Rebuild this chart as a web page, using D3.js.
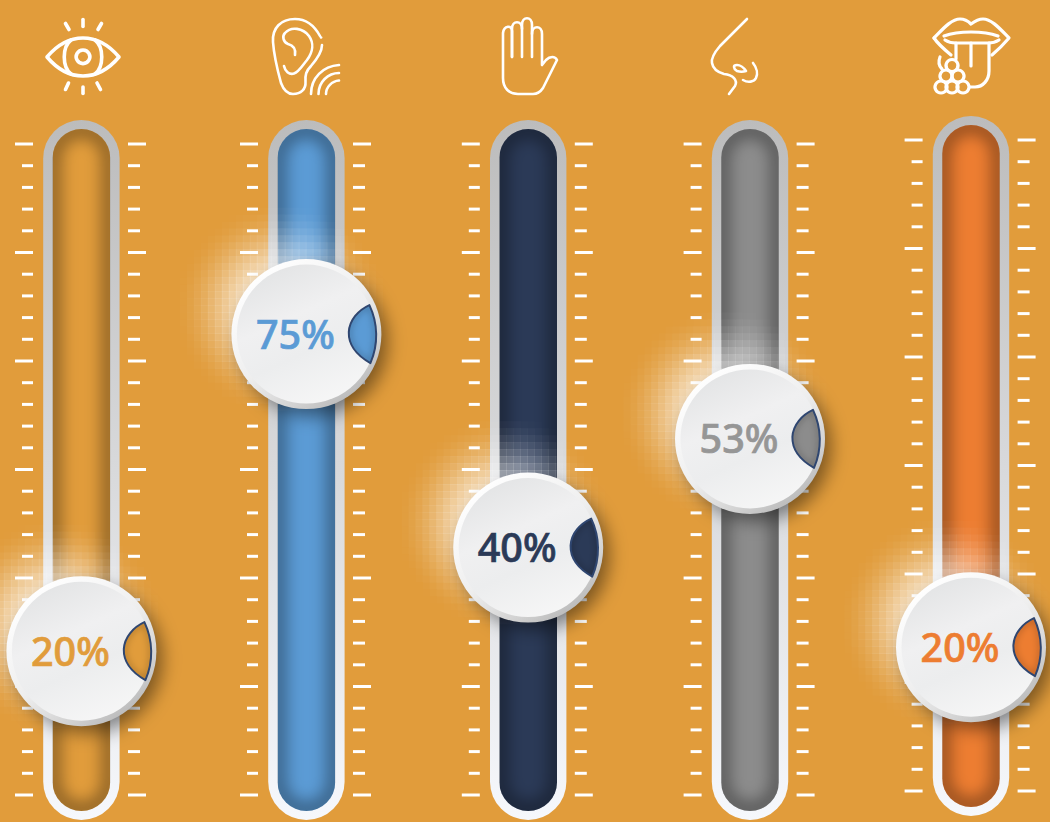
<!DOCTYPE html>
<html><head><meta charset="utf-8">
<script src="https://cdn.jsdelivr.net/npm/d3@7"></script>
<style>html,body{margin:0;padding:0;background:#e19c3b;overflow:hidden}svg{display:block}</style>
</head><body><svg id="c" width="1050" height="822"></svg>
<script>
const senses=["sight","hearing","touch","smell","taste"];
const percentLabels=[20,75,40,53,20];
const knobLevels=[22.1,70.8,38,54.7,22.1];
const fillColors=["#e19c3b","#5b9bd5","#2b3a57","#8c8c8c","#ed7d31"];
const textColors=["#e19c3b","#5b9bd5","#2b3a57","#969696","#ed7d31"];
const trackCenters=[81.4,306.4,528.2,750,971];
const trackShifts=[0,0,0,0,-4];
const majorTicks=d3.range(0,101,100/6);
const minorTicks=d3.range(0,30).map(i=>i*100/30).filter(v=>!majorTicks.some(m=>Math.abs(m-v)<.01));
const iconPaths={
 sight:["M47,57 C58,44 70,38 83,38 C96,38 108,44 119,57 C108,70 96,76 83,76 C70,76 58,70 47,57Z","M71,40 C62,47 62,67 71,74","M95,40 C104,47 104,67 95,74","M83,50 a6.8,6.8 0 1 0 .01,0Z","M83,19.5V26.5","M65.5,23.5L69,29.5","M101.5,23.5L98,29.5","M83,87V93.5","M68.5,83L65.5,89.5","M97,83L100.5,89.5"],
 hearing:["M320,36 C314,25 305,19 295,19 C281,19 272,28 273,42 C274,56 278,72 281,83 C284,91 288,94 293,94 C301,94 306,89 305.5,82 C305,75 306,71 311,66 C317,59 322,52 322,45","M295,55 C296,48 292,45 288,44 C283,42 282,36 285,33 C291,26 303,28 309,36 C314,43 313,52 307,60 C302,66 299,72 294,73.5 C289,75 285,71 284,66","M321,37.5h.1","M311,94 C311,78 323,66 339,65","M318.5,94 C318.5,82 328,73 339,73","M326,94 C326,87 332,81 339,80.5"],
 touch:["M512,57 V31 C512,25 504,25 503,33 L503,78 C503,88 509,94 518,94 L533,94 C538,94 541,91 543,88 L557,60 C555,56 550,56 546,60 L542,65 V34 C542,25 532,25 532,34 V57","M522,57 V25 C522,16 532,16 532,25 V34","M512,57 V29 C512,20 522,20 522,29"],
 smell:["M747,19 L720,46 C714,53 711,58 712,63 C713,69 717,72 724,74 C733,75 738,80 735,86 L729,94","M737,71 C733,68 733,65 737,65 C740,65 744,68 746,71 C743,72 740,72 737,71Z","M753,63 C757,68 758,74 756,78 C754,82 748,83 743,80"],
 taste:["M934,38 C942,30 951,19 960,19 C965,19 968,21 971,24 C975,21 978,19 983,19 C992,19 1001,30 1009,38 C1003,45 998,50 992,55","M934,38 C938,44 945,50 951,55","M944,36 C952,33 962,32 971,32 C980,32 990,33 998,36","M945,40 C948,42 952,43 956,43 H988 C992,43 996,42 999,40","M956,43 V59 M989,43 V71 C989,80 983,87 975,87 L970,87","M971,43 V66","M952,59.5 a6,6 0 1 0 .01,0Z","M946,70 a6,6 0 1 0 .01,0Z","M958,70 a6,6 0 1 0 .01,0Z","M941,81 a6,6 0 1 0 .01,0Z","M952,81 a6,6 0 1 0 .01,0Z","M963,81 a6,6 0 1 0 .01,0Z","M940,57 C938,62 939,66 942,69"]
};
const iconWidths={sight:3.6,hearing:2.6,touch:2.6,smell:2.6,taste:3.2};

const svg=d3.select("#c");
svg.append("rect").attr("width",1050).attr("height",822).attr("fill","#e19c3b");
const defs=svg.append("defs");
const grad=(id,x1,y1,x2,y2,stops)=>{const g=defs.append("linearGradient").attr("id",id).attr("x1",x1).attr("y1",y1).attr("x2",x2).attr("y2",y2);
 stops.forEach(s=>g.append("stop").attr("offset",s[0]).attr("stop-color",s[1]));};
grad("trackGrad",0,0,0,1,[[0,"#bcbcbc"],[.5,"#d8d9db"],[1,"#f6f8fc"]]);
grad("rimGrad",.15,.1,.8,.95,[[0,"#ffffff"],[.5,"#eeeeee"],[.8,"#d2d2d2"],[1,"#b8b8b8"]]);
grad("faceGrad",.3,0,.75,1,[[0,"#e3e4e5"],[.35,"#f0f0f1"],[.6,"#ecedee"],[1,"#f7f7f7"]]);
const blur=(id,sd)=>defs.append("filter").attr("id",id).attr("filterUnits","userSpaceOnUse").attr("x",-300).attr("y",-100).attr("width",1700).attr("height",1100)
 .append("feGaussianBlur").attr("stdDeviation",sd);
blur("b3",3.5);blur("b9",9);

const y=d3.scaleLinear().domain([0,100]).range([795,144]);
const lensPath="M63,-29 A70,70 0 0 1 64,29 C50,21 42,10 42.4,-2 C43,-14 52,-24 63,-29Z";
const R=75, cell=7;
const smooth=(a,b,x)=>{const t=Math.min(1,Math.max(0,(x-a)/(b-a)));return t*t*(3-2*t);};

senses.forEach((name,i)=>{
 const cx=trackCenters[i], dy=trackShifts[i], col=fillColors[i];
 const ic=svg.append("g").attr("fill","none").attr("stroke","#fff").attr("stroke-linecap","round").attr("stroke-linejoin","round").attr("stroke-width",iconWidths[name]);
 ic.selectAll("path").data(iconPaths[name]).join("path").attr("d",d=>d);

 const g=svg.append("g").attr("transform",`translate(${cx},${dy})`);
 const top=y(100)-24, bot=y(0)+25;
 g.append("rect").attr("x",-38.2).attr("y",top).attr("width",76.4).attr("height",bot-top).attr("rx",38.2).attr("fill","url(#trackGrad)");
 const it=top+9, ih=bot-top-18;
 const clipId="clip"+i;
 defs.append("clipPath").attr("id",clipId).append("rect").attr("x",-28.8).attr("y",it).attr("width",57.6).attr("height",ih).attr("rx",28.8);
 const inner=g.append("g").attr("clip-path",`url(#${clipId})`);
 inner.append("rect").attr("x",-28.8).attr("y",it).attr("width",57.6).attr("height",ih).attr("fill",col);
 inner.append("rect").attr("x",-28.8).attr("y",it).attr("width",57.6).attr("height",ih).attr("rx",28.8)
  .attr("fill","none").attr("stroke","#000").attr("stroke-opacity",.62).attr("stroke-width",10).attr("filter","url(#b9)");

 // mosaic glow behind the knob
 const ky=y(knobLevels[i]);
 const gx=-25, gy=ky-25;
 const cells=[];
 d3.range(-18,19).forEach(a=>d3.range(-18,19).forEach(b=>{
  const px=gx+a*cell, py=gy+b*cell, d=Math.hypot(a*cell,b*cell);
  const o=.82*Math.pow(1-smooth(15,112,d),1.2);
  if(o>.004)cells.push({px,py,o});
 }));
 g.append("g").selectAll("rect").data(cells).join("rect")
  .attr("x",d=>d.px-cell/2).attr("y",d=>d.py-cell/2).attr("width",cell+.3).attr("height",cell+.3)
  .attr("fill","#fff").attr("fill-opacity",d=>d.o);

 // tick scales through d3 axes
 const axis=(gen,x,vals,size)=>{const a=g.append("g").attr("transform",`translate(${x},0)`)
   .call(gen(y).tickValues(vals).tickSize(size).tickFormat("").offset(0));
   a.select(".domain").remove();
   a.selectAll("line").attr("stroke","#fff").attr("stroke-width",3);};
 axis(d3.axisLeft,-48.4,majorTicks,18);
 axis(d3.axisLeft,-48.4,minorTicks,11);
 axis(d3.axisRight,46.6,majorTicks,18);
 axis(d3.axisRight,46.6,minorTicks,12);

 // knob
 const k=g.append("g").attr("transform",`translate(0,${ky})`);
 k.append("circle").attr("cx",7).attr("cy",8).attr("r",R-1).attr("fill","#000").attr("fill-opacity",.45).attr("filter","url(#b9)");
 k.append("circle").attr("r",R).attr("fill","url(#rimGrad)");
 k.append("circle").attr("r",R-5.5).attr("fill","url(#faceGrad)");
 const lensClip="lens"+i;
 defs.append("clipPath").attr("id",lensClip).append("path").attr("d",lensPath);
 const lens=k.append("g");
 lens.append("path").attr("d",lensPath).attr("fill",col);
 lens.append("g").attr("clip-path",`url(#${lensClip})`).append("path").attr("d",lensPath)
  .attr("fill","none").attr("stroke","#000").attr("stroke-opacity",.25).attr("stroke-width",4).attr("filter","url(#b3)");
 lens.append("path").attr("d",lensPath).attr("fill","none").attr("stroke","#2f4670").attr("stroke-width",2).attr("stroke-linejoin","round");
 k.append("text").attr("x",-11).attr("y",14.5).attr("text-anchor","middle")
  .attr("font-family","'Noto Sans','Open Sans',sans-serif").attr("font-weight",500).attr("font-size",39.5)
  .attr("fill",textColors[i]).attr("stroke",textColors[i]).attr("stroke-width",.7).text(percentLabels[i]+"%");
});
</script></body></html>
